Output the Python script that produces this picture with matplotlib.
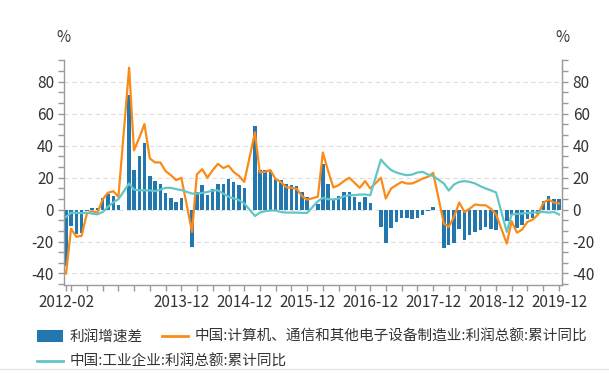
import numpy as np
import pandas as pd
import matplotlib
matplotlib.use('Agg')
from matplotlib import pyplot as plt
from matplotlib.lines import Line2D
from matplotlib.patches import Patch

plt.rcParams['font.family'] = ['Noto Sans CJK SC', 'DejaVu Sans']
plt.rcParams['axes.unicode_minus'] = False

# monthly cumulative data, January is not published (Feb..Dec each year)
years = list(range(2012, 2020))
months = list(range(2, 13))
dates = pd.to_datetime([f'{y}-{m:02d}-01' for y in years for m in months])

# 利润增速差
profit_gap = [
    -35.3, -10, -15, -14.4, -1, 1, 1, 7.5, 9.5, 8.5, 3,
    71.7, 24.7, 33.4, 41.4, 21, 17.8, 16.3, 10.2, 7.3, 4.8, 7.3,
    -23.4, 11, 15.3, 9.4, 12.7, 16.3, 16, 19.4, 17, 15.3, 13.6,
    52.2, 24.7, 24.7, 24.9, 19.4, 18.4, 15.7, 15.3, 15, 10.7, 7.9,
    3.3, 28.4, 16.3, 5.9, 8.6, 10.7, 11.3, 7.9, 4.8, 7.9, 4.2,
    -10.9, -20.9, -11.3, -7.7, -5, -5.2, -5.6, -5.2, -3.6, -1, 1.7,
    -24, -22.4, -20.7, -11.9, -19.2, -16, -14, -12.5, -11, -12, -13,
    -7.1, -3.6, -11.3, -9.4, -5.6, -5, -2.9, 5.4, 8.6, 6.3, 6.3,
]
# 中国:计算机、通信和其他电子设备制造业:利润总额:累计同比
profit_electronics = [
    -40, -12, -17, -16.5, -2.5, -1, -2, 6.5, 10.5, 11.5, 8,
    88.8, 37, 45, 53.5, 32, 29.5, 29.5, 24, 21.5, 18.4, 19.9,
    -14, 22, 25.3, 19.9, 24.7, 28.6, 26, 27.4, 23.5, 21, 17.3,
    48.3, 23.2, 23.6, 24.7, 19, 17.3, 14, 13.6, 13, 8.4, 6.2,
    8, 35.7, 24, 13.8, 15.3, 17.8, 19.9, 16.7, 13.6, 17.8, 13.2,
    19.9, 6.9, 13.2, 15.3, 17.3, 16.3, 16.3, 17.8, 19.4, 20.5, 23,
    -8.8, -10.9, -4.5, 4.4, -1.5, 0.6, 3.2, 2.7, 2.7, 0.5, -3.1,
    -21.3, -7.3, -14.5, -12.5, -7.7, -6.3, -3.2, 4.2, 6.3, 4.4, 3.8,
]
# 中国:工业企业:利润总额:累计同比
profit_industry = [
    -4.6, -2, -2, -2.3, -2, -2.5, -3, -1.5, 1.7, 4.5, 6.5,
    16.3, 12.5, 12, 12, 12, 11.5, 12.5, 13.6, 13.6, 12.8, 12.2,
    10, 10, 10.4, 11, 12, 12, 10, 8, 7, 5.9, 3.8,
    -4, -1.9, -1, -0.6, -0.6, -1.5, -1.9, -1.9, -1.9, -2.1, -2.1,
    5.2, 7.3, 6.5, 6.3, 6.9, 8.2, 9, 9, 9.4, 9.4, 9,
    31.3, 27.8, 24.7, 23.2, 22.2, 21.5, 21.9, 23.2, 23.6, 21.9, 21,
    16.3, 11.9, 15.7, 17.3, 17.8, 17.3, 16.3, 14.6, 13.2, 12, 10.7,
    -14, -3.1, -2.7, -2.5, -2.1, -1.9, -1.7, -1.5, -1.9, -1.5, -3.1,
]

tick_dates = pd.to_datetime(['2012-02-01'] + [f'{y}-{m:02d}-01' for y in years for m in (3, 6, 9, 12)])
tick_labels = ['2012-02'] + [f'{y}-12' if (m == 12 and y >= 2013) else ''
                             for y in years for m in (3, 6, 9, 12)]

label_gap = '利润增速差'
label_elec = '中国:计算机、通信和其他电子设备制造业:利润总额:累计同比'
label_ind = '中国:工业企业:利润总额:累计同比'

c_bar = '#2177ae'
c_elec = '#fb8a17'
c_ind = '#62c6c6'
c_axis = '#9a9a9a'
c_text = '#333333'

fig = plt.figure(figsize=(6.09, 3.74), dpi=100)
ax = fig.add_axes([0.1056, 0.238, 0.8177, 0.6016])

ax.bar(dates, profit_gap, width=20, color=c_bar, zorder=2)
ax.plot(dates, profit_electronics, color=c_elec, lw=1.6, zorder=3)
ax.plot(dates, profit_industry, color=c_ind, lw=1.6, zorder=3)

ylo, yhi = -47.2, 93.6
ax.set_ylim(ylo, yhi)
ax.set_xlim(pd.Timestamp('2012-01-22'), pd.Timestamp('2019-12-20'))
major = np.arange(-40, 81, 20)
minor = np.arange(-40 - 20 / 3, 95, 20 / 3)
ax.set_yticks(major)
ax.set_yticks(minor, minor=True)
ax.set_xticks(tick_dates)
ax.set_xticklabels(tick_labels)
ax.grid(axis='y', which='major', color='#dcdcdc', ls=(0, (4, 3)), lw=0.8, zorder=0)

ax.spines['top'].set_visible(False)
for side in ('left', 'right', 'bottom'):
    ax.spines[side].set_color(c_axis)
    ax.spines[side].set_linewidth(1.0)

ax.tick_params(axis='both', which='both', color=c_axis, length=4.5, width=1.0,
               labelsize=11, labelcolor=c_text)
ax.tick_params(axis='x', pad=2)
ax.tick_params(axis='y', pad=3)

ax2 = ax.twinx()
ax2.set_ylim(ylo, yhi)
ax2.set_yticks(major)
ax2.set_yticks(minor, minor=True)
for side in ('top', 'left', 'bottom'):
    ax2.spines[side].set_visible(False)
ax2.spines['right'].set_color(c_axis)
ax2.tick_params(axis='y', which='both', color=c_axis, length=4.5, width=1.0,
                labelsize=11, labelcolor=c_text, pad=3)

fig.text(63 / 609, 1 - 38 / 374, '%', ha='center', va='center', fontsize=11, color=c_text)
fig.text(562 / 609, 1 - 38 / 374, '%', ha='center', va='center', fontsize=11, color=c_text)

h_gap = Patch(facecolor=c_bar, edgecolor='none')
h_elec = Line2D([], [], color=c_elec, lw=2)
h_ind = Line2D([], [], color=c_ind, lw=2)
leg_kw = dict(frameon=False, fontsize=10.5, borderpad=0, borderaxespad=0,
              handlelength=1.8, handleheight=0.9, handletextpad=0.45,
              columnspacing=1.3, labelcolor=c_text)
fig.legend([h_gap, h_elec], [label_gap, label_elec], ncol=2, loc='center left',
           bbox_to_anchor=(37 / 609, 1 - 337 / 374), **leg_kw)
fig.legend([h_ind], [label_ind], loc='center left',
           bbox_to_anchor=(37 / 609, 1 - 362 / 374), **leg_kw)

fig.add_artist(Line2D([0, 1], [1 - 369 / 374] * 2, color='#e6e6e6', lw=1))

fig.savefig('out.png', dpi=100)
